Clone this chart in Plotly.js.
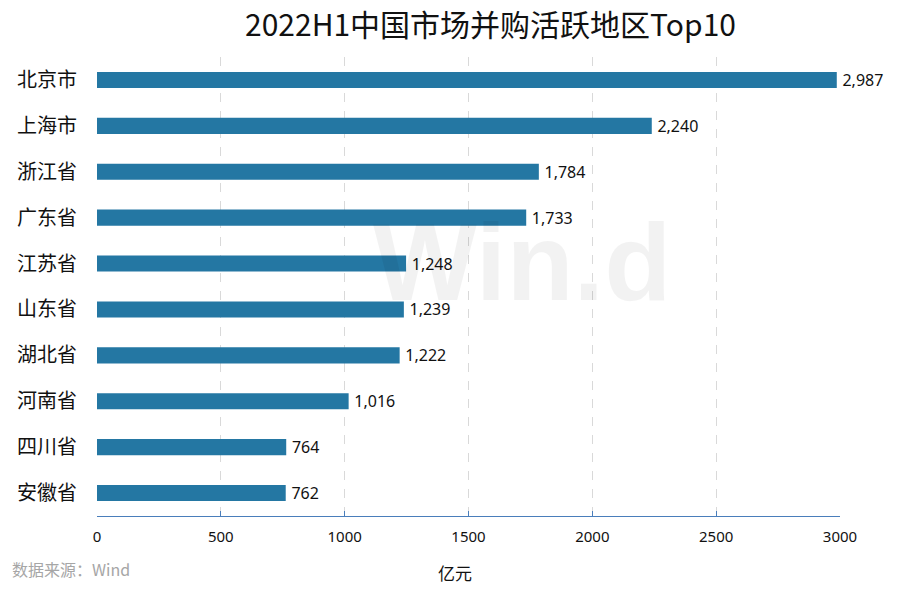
<!DOCTYPE html>
<html>
<head>
<meta charset="utf-8">
<script src="https://cdn.plot.ly/plotly-3.0.1.min.js"></script>
<style>html,body{margin:0;padding:0;background:#fff;}#chart{width:900px;height:591px;}</style>
</head>
<body>
<div id="chart"></div>
<script>
const regions = ["北京市","上海市","浙江省","广东省","江苏省","山东省","湖北省","河南省","四川省","安徽省"];
const values = [2987, 2240, 1784, 1733, 1248, 1239, 1222, 1016, 764, 762];
const xTicks = [0, 500, 1000, 1500, 2000, 2500, 3000];

const FONT = '"Noto Sans", "Noto Sans CJK SC", sans-serif';
const CJK = '"Noto Sans CJK SC", sans-serif';

const trace = {
  type: 'bar',
  orientation: 'h',
  y: regions,
  x: values,
  width: 0.35,
  marker: {color: '#2477a3'},
  text: values.map(v => '\u2009' + v.toLocaleString('en-US')),
  textposition: 'outside',
  constraintext: 'none',
  cliponaxis: false,
  textfont: {family: FONT, size: 16, color: '#111'},
  hoverinfo: 'skip'
};

const layout = {
  width: 900, height: 591,
  margin: {l: 97, r: 60, t: 57, b: 75},
  paper_bgcolor: '#fff', plot_bgcolor: '#fff',
  title: {text: '2022H1中国市场并购活跃地区Top10', x: 0.545, xanchor: 'center', y: 0.957, yanchor: 'middle',
          font: {family: CJK, size: 30, color: '#111'}},
  showlegend: false,
  xaxis: {
    range: [0, 3000], tickvals: xTicks, ticktext: xTicks.map(String),
    showgrid: true, gridcolor: '#d9d9d9', griddash: 'dash', gridwidth: 1,
    zeroline: false, showline: true, linecolor: '#4a7ebb', linewidth: 1,
    ticks: 'inside', ticklen: 5, tickcolor: '#4a7ebb',
    ticklabelstandoff: 7,
    tickfont: {family: FONT, size: 15, color: '#111'},
    fixedrange: true
  },
  yaxis: {
    categoryorder: 'array', categoryarray: regions, autorange: 'reversed',
    showgrid: false, zeroline: false, showline: false, ticks: '',
    ticklabelstandoff: 19,
    tickfont: {family: CJK, size: 20, color: '#111'},
    fixedrange: true
  },
  bargap: 0.65,
  annotations: [
    {text: '亿元', xref: 'paper', yref: 'paper', x: 0.482, y: -0.124, xanchor: 'center', yanchor: 'middle',
     showarrow: false, font: {family: CJK, size: 17, color: '#111'}},
    {text: '数据来源：Wind', xref: 'paper', yref: 'paper', x: -0.117, y: -0.115, xanchor: 'left', yanchor: 'middle',
     showarrow: false, font: {family: CJK, size: 16, color: '#a6a6a6'}},
    {text: '<b>Win.d</b>', xref: 'paper', yref: 'paper', x: 0.572, y: 0.555, xanchor: 'center', yanchor: 'middle',
     showarrow: false, font: {family: '"Liberation Sans", Arial, sans-serif', size: 110, color: 'rgba(0,0,0,0.05)'}}
  ]
};

Plotly.newPlot('chart', [trace], layout, {displayModeBar: false, staticPlot: true});
</script>
</body>
</html>
